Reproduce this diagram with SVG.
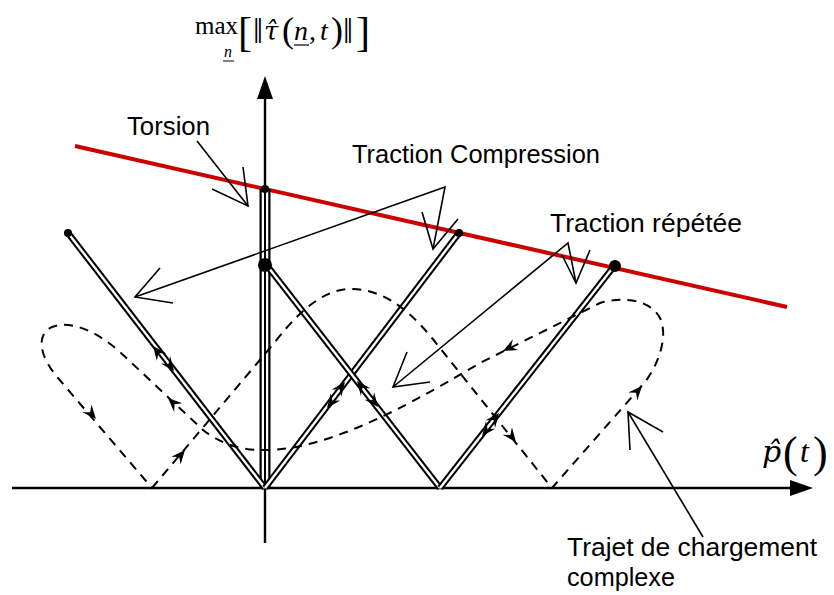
<svg xmlns="http://www.w3.org/2000/svg" xmlns:xlink="http://www.w3.org/1999/xlink" width="834" height="595" viewBox="0 0 834 595">
<style>
.ax{stroke:#000;stroke-width:2.4;fill:none}
.dblo{stroke:#000;stroke-width:6.5;fill:none;stroke-linecap:butt}
.dbli{stroke:#fff;stroke-width:2.4;fill:none;stroke-linecap:butt}
.dash{stroke:#000;stroke-width:2;fill:none;stroke-dasharray:9 7}
.lead{stroke:#000;stroke-width:1.6;fill:none;stroke-linejoin:miter}
.lbl{font-family:"Liberation Sans",Arial,sans-serif;font-size:25px;fill:#000}
.m{font-family:"Liberation Serif","DejaVu Serif",serif;fill:#000}
.i{font-style:italic}
.dj{font-family:"DejaVu Serif",serif;font-style:italic}
</style>
<defs>
<path id="ah" d="M0,0 L-14,-6 L-9,0 L-14,6 Z" fill="#000"/>
</defs>
<rect width="834" height="595" fill="#fff"/>

<g id="axes">
<line class="ax" x1="12" y1="488" x2="795" y2="488"/>
<path d="M813,488 L790,480 L790,496 Z" fill="#000"/>
<line class="ax" x1="265" y1="543" x2="265" y2="95"/>
<path d="M265,76 L257,99 L273,99 Z" fill="#000"/>
</g>

<g id="criterion">
<line x1="75" y1="146" x2="787" y2="307" stroke="#cc0000" stroke-width="4"/>
</g>

<g id="paths">
<g id="torsion-path">
<line x1="265" y1="189" x2="265" y2="488" stroke="#000" stroke-width="11"/>
<line x1="265" y1="189" x2="265" y2="488" stroke="#fff" stroke-width="6.5"/>
<line x1="265" y1="189" x2="265" y2="488" stroke="#000" stroke-width="2"/>
</g>
<g id="path-left">
<line class="dblo" x1="68" y1="233" x2="265" y2="488"/>
<line class="dbli" x1="68" y1="233" x2="265" y2="488"/>
</g>
<g id="path-right-1">
<line class="dblo" x1="265" y1="488" x2="459" y2="233"/>
<line class="dbli" x1="265" y1="488" x2="459" y2="233"/>
</g>
<g id="path-x">
<line class="dblo" x1="265" y1="263" x2="440" y2="488"/>
<line class="dbli" x1="265" y1="263" x2="440" y2="488"/>
</g>
<g id="path-right-2">
<line class="dblo" x1="440" y1="488" x2="615" y2="265"/>
<line class="dbli" x1="440" y1="488" x2="615" y2="265"/>
</g>
<g id="path-arrows">
<use xlink:href="#ah" transform="translate(153,346) rotate(-127.7)"/>
<use xlink:href="#ah" transform="translate(174,371) rotate(52.3)"/>
<use xlink:href="#ah" transform="translate(345,382) rotate(-52.7)"/>
<use xlink:href="#ah" transform="translate(327,408) rotate(127.3)"/>
<use xlink:href="#ah" transform="translate(357,381) rotate(-127.9)"/>
<use xlink:href="#ah" transform="translate(378,407) rotate(52.1)"/>
<use xlink:href="#ah" transform="translate(499,413) rotate(-51.9)"/>
<use xlink:href="#ah" transform="translate(482,436) rotate(128.1)"/>
</g>
</g>

<g id="complex-path">
<path class="dash" d="M152,488 L275,342 C305,303 330,288 353,289 C380,290 405,305 432,338 L552,488 L645,382 C660,362 668,335 660,318 C650,300 625,296 600,303 L480,363 C425,395 335,450 265,450 C240,451 218,442 203,430 L120,352 C95,330 70,320 52,327 C35,335 40,357 58,378 Z"/>
<use xlink:href="#ah" transform="translate(96,419) rotate(49.4)"/>
<use xlink:href="#ah" transform="translate(168,398) rotate(223.2)"/>
<use xlink:href="#ah" transform="translate(185,450) rotate(-49.9)"/>
<use xlink:href="#ah" transform="translate(516,442) rotate(51.3)"/>
<use xlink:href="#ah" transform="translate(642,386) rotate(-48.7)"/>
<use xlink:href="#ah" transform="translate(503,351) rotate(153.4)"/>
</g>

<g id="points">
<circle cx="68" cy="233" r="4" fill="#000"/>
<circle cx="265" cy="189" r="4" fill="#000"/>
<circle cx="459" cy="233" r="4" fill="#000"/>
<circle cx="265" cy="265" r="7" fill="#000"/>
<circle cx="615" cy="266" r="6" fill="#000"/>
</g>

<g id="connectors">
<path class="lead" d="M197,141 L248,206"/>
<path class="lead" d="M243,167 L248,206 L212,189"/>
<path class="lead" d="M433,249 L445,187 L135,297"/>
<path class="lead" d="M422,212 L433,249 L458,219"/>
<path class="lead" d="M160,268 L135,297 L173,303"/>
<path class="lead" d="M576,283 L568,243 L393,387"/>
<path class="lead" d="M562,255 L576,283 L590,250"/>
<path class="lead" d="M407,352 L393,387 L430,382"/>
<path class="lead" d="M703,537 L628,412"/>
<path class="lead" d="M630,450 L628,412 L663,432"/>
</g>

<g id="labels">
<text class="lbl" x="127" y="135" textLength="83" lengthAdjust="spacingAndGlyphs">Torsion</text>
<text class="lbl" x="352" y="163" textLength="248" lengthAdjust="spacingAndGlyphs">Traction Compression</text>
<text class="lbl" x="550" y="232" textLength="192" lengthAdjust="spacingAndGlyphs">Traction répétée</text>
<text class="lbl" x="567" y="556" textLength="250" lengthAdjust="spacingAndGlyphs">Trajet de chargement</text>
<text class="lbl" x="567" y="586" textLength="108" lengthAdjust="spacingAndGlyphs">complexe</text>
</g>

<g id="y-label">
<text class="m" font-size="28"><tspan x="195" y="34" font-size="25">max</tspan><tspan x="224" y="57" font-size="16" class="i">n</tspan><tspan x="238" y="46" font-size="42">[</tspan><tspan x="253" y="43" font-size="36">‖</tspan><tspan x="264" y="40" font-size="26" class="dj">τ̂</tspan><tspan x="282" y="42" font-size="36">(</tspan><tspan x="294" y="40" class="i">n</tspan><tspan x="309" y="40">,</tspan><tspan x="320" y="40" class="i">t</tspan><tspan x="331" y="42" font-size="36">)</tspan><tspan x="343" y="43" font-size="36">‖</tspan><tspan x="356" y="46" font-size="42">]</tspan></text>
<line x1="223" y1="61" x2="234" y2="61" stroke="#000" stroke-width="1"/>
<line x1="294" y1="45" x2="309" y2="45" stroke="#000" stroke-width="1.2"/>
</g>

<g id="x-label">
<text class="m" font-size="32"><tspan x="762" y="462" font-size="30" class="dj">p̂</tspan><tspan x="783" y="467" font-size="44">(</tspan><tspan x="800" y="462" class="i">t</tspan><tspan x="813" y="467" font-size="44">)</tspan></text>
</g>
</svg>
